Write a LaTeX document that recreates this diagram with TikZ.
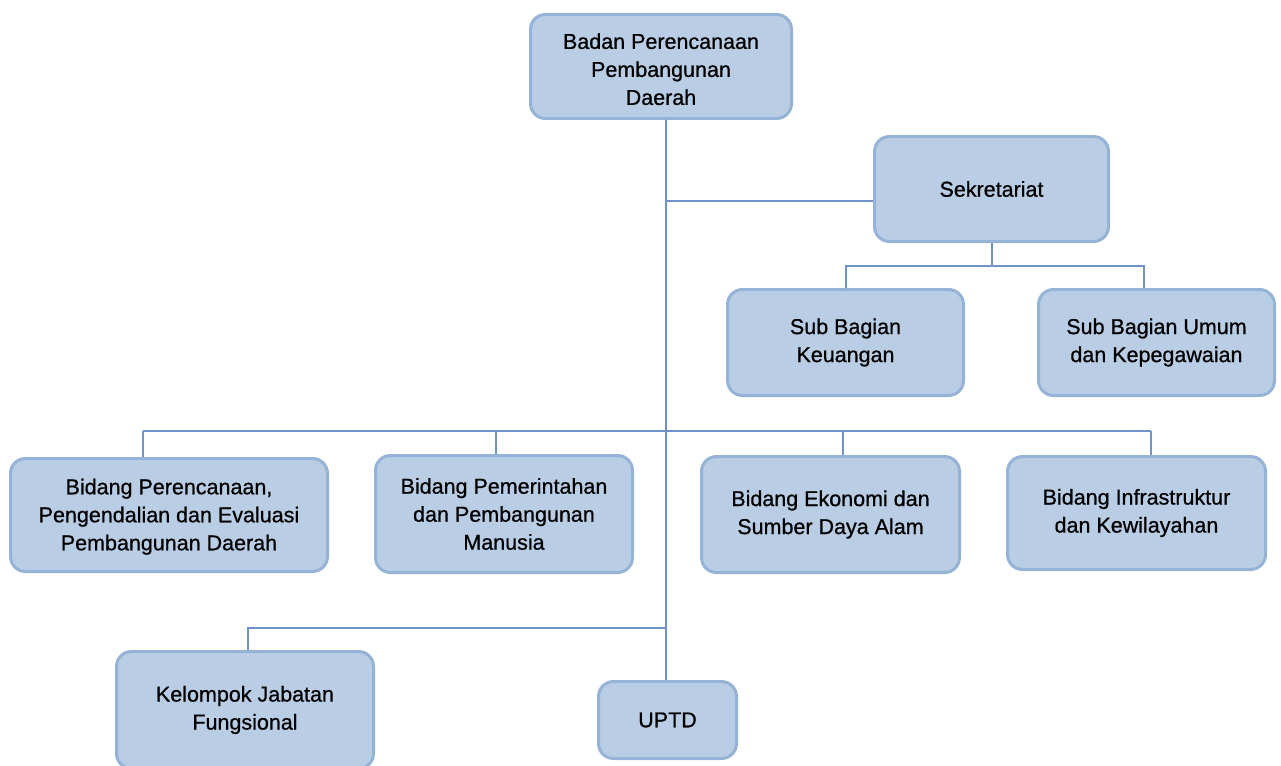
\documentclass[tikz,border=0pt]{standalone}
\usepackage{fontspec}
\setmainfont{Liberation Sans}[FakeBold=0.7]
\definecolor{boxfill}{HTML}{B9CDE5}
\definecolor{boxline}{HTML}{95B3D7}
\definecolor{conn}{HTML}{6F93C8}
\tikzset{
  orgbox/.style={draw=boxline, fill=boxfill, line width=3pt, rounded corners=15pt,
    align=center, inner sep=0pt, font=\fontsize{21.5}{28}\selectfont},
  link/.style={draw=conn, line width=1.2pt}
}
\begin{document}
\begin{tikzpicture}[x=1pt,y=-1pt]
\useasboundingbox (0,0) rectangle (1281,765);
% boxes
\node[orgbox, minimum width=261pt, minimum height=104pt] (top) at (661,66.5) {\rule{0pt}{21pt}Badan Perencanaan\\Pembangunan\\Daerah};
\node[orgbox, minimum width=234pt, minimum height=105pt] (sek) at (991.5,189) {Sekretariat};
\node[orgbox, minimum width=236pt, minimum height=106pt] (keu) at (845.5,342.5) {Sub Bagian\\Keuangan};
\node[orgbox, minimum width=236pt, minimum height=106pt] (umum) at (1156.5,342.5) {Sub Bagian Umum\\dan Kepegawaian};
\node[orgbox, minimum width=317pt, minimum height=113pt] (bp1) at (169,515) {\rule{0pt}{19pt}Bidang Perencanaan,\\Pengendalian dan Evaluasi\\Pembangunan Daerah};
\node[orgbox, minimum width=257pt, minimum height=117pt] (bp2) at (504,514) {Bidang Pemerintahan\\dan Pembangunan\\Manusia};
\node[orgbox, minimum width=258pt, minimum height=116pt] (bp3) at (830.5,514.5) {Bidang Ekonomi dan\\Sumber Daya Alam};
\node[orgbox, minimum width=258pt, minimum height=113pt] (bp4) at (1136.5,513) {Bidang Infrastruktur\\dan Kewilayahan};
\node[orgbox, minimum width=257pt, minimum height=117pt] (kel) at (245,710) {Kelompok Jabatan\\Fungsional};
\node[orgbox, minimum width=138pt, minimum height=77pt] (uptd) at (667.5,720) {UPTD};
% helper coordinates
\coordinate (trunk) at (666,0);
\coordinate (sekj) at (666,201);
\coordinate (sekd) at (992,266);
\coordinate (keux) at (846,266);
\coordinate (umumx) at (1144,266);
\coordinate (b1) at (143,431);
\coordinate (b2) at (496,431);
\coordinate (b3) at (843,431);
\coordinate (b4) at (1151,431);
\coordinate (kj) at (666,628);
\coordinate (k1) at (248,628);
% connectors
\draw[link] (top.south -| trunk) -- (uptd.north -| trunk);
\draw[link] (sekj) -- (sekj -| sek.west);
\draw[link] (sek.south -| sekd) -- (sekd);
\draw[link] (keu.north -| keux) -- (keux) -- (umumx) -- (umum.north -| umumx);
\draw[link] (b1) -- (b4);
\draw[link] (b1) -- (bp1.north -| b1);
\draw[link] (b2) -- (bp2.north -| b2);
\draw[link] (b3) -- (bp3.north -| b3);
\draw[link] (b4) -- (bp4.north -| b4);
\draw[link] (kj) -- (k1) -- (kel.north -| k1);
\end{tikzpicture}
\end{document}
